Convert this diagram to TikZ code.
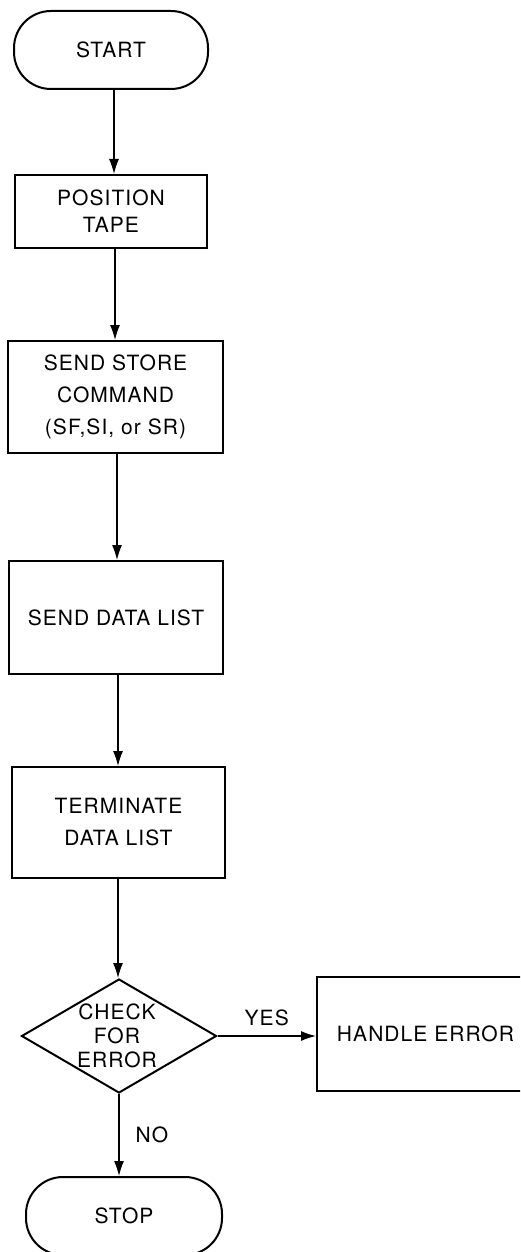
\documentclass[tikz,border=0pt]{standalone}
\usepackage{fontspec}
\setmainfont{TeX Gyre Heros}[LetterSpace=5]
\usetikzlibrary{arrows.meta,shapes.geometric}
\begin{document}
\begin{tikzpicture}[x=1pt,y=-1pt,
  txt/.style={align=center, inner sep=0pt},
  term/.style={draw, line width=2pt, rounded corners=37pt, inner sep=0pt, font=\fontsize{21}{32}\selectfont},
  proc/.style={draw, line width=2pt, inner sep=0pt, align=center, font=\fontsize{21}{32}\selectfont},
  dec/.style={draw, diamond, line width=2pt, inner sep=0pt},
  flow/.style={line width=1.2pt, -{Latex[length=15pt,width=10pt]}},
  lab/.style={font=\fontsize{21}{24}\selectfont, inner sep=0pt}
]
\clip (0,0) rectangle (520,1252);
\node[term, minimum width=194pt, minimum height=78pt] (start) at (111,50) {START};
\node[proc, minimum width=192pt, minimum height=73pt, font=\fontsize{21}{27}\selectfont] (pos) at (111,211.5) {POSITION\\TAPE};
\node[proc, minimum width=215pt, minimum height=112pt] (store) at (115.5,397) {SEND STORE\\COMMAND\\(SF,SI, or SR)};
\node[proc, minimum width=214pt, minimum height=113pt] (data) at (116,617.5) {SEND DATA LIST};
\node[proc, minimum width=213pt, minimum height=111pt] (termn) at (118.5,822.5) {TERMINATE\\DATA LIST};
\node[dec, minimum width=195pt, minimum height=114pt] (check) at (119,1036) {};
\node[txt, font=\fontsize{21}{24}\selectfont] (checkt) at (117,1036) {CHECK\\FOR\\ERROR};
\node[proc, minimum width=213pt, minimum height=114pt] (handle) at (423.5,1034) {\hspace*{4pt}HANDLE ERROR};
\node[term, minimum width=196pt, minimum height=78pt] (stop) at (124,1216) {STOP};
\draw[flow] ([xshift=3pt]start.south) -- ([xshift=3pt]start.south |- pos.north);
\draw[flow] ([xshift=4pt]pos.south) -- ([xshift=4pt]pos.south |- store.north);
\draw[flow] ([xshift=1.5pt]store.south) -- ([xshift=1.5pt]store.south |- data.north);
\draw[flow] ([xshift=2pt]data.south) -- ([xshift=2pt]data.south |- termn.north);
\draw[flow] ([xshift=-0.5pt]termn.south) -- ([xshift=-0.5pt]termn.south |- check.north);
\draw[flow] (check.south) -- node[lab, right=16pt] (no) {NO} (check.south |- stop.north);
\draw[flow] (check.east) -- node[lab, above=10pt] (yes) {YES} (check.east -| handle.west);
\end{tikzpicture}
\end{document}
